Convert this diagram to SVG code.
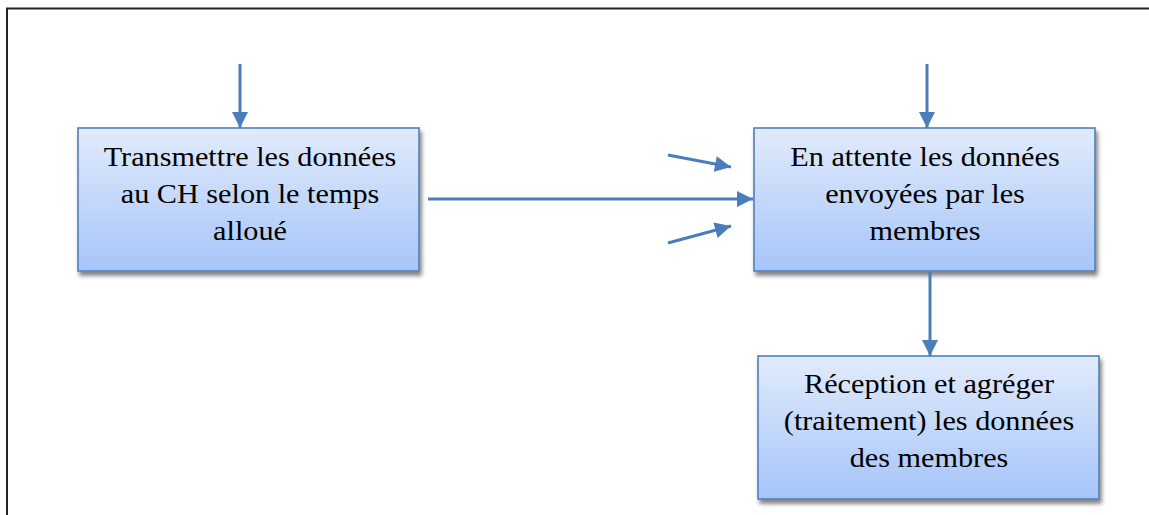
<svg xmlns="http://www.w3.org/2000/svg" width="1149" height="515" viewBox="0 0 1149 515">
  <defs>
    <linearGradient id="boxFill" x1="0" y1="0" x2="0" y2="1">
      <stop offset="0" stop-color="#e1ebfc"/>
      <stop offset="1" stop-color="#a6c5f9"/>
    </linearGradient>
    <filter id="shadow" x="-10%" y="-10%" width="125%" height="130%">
      <feGaussianBlur in="SourceAlpha" stdDeviation="2"/>
      <feOffset dx="2" dy="4" result="b"/>
      <feComponentTransfer><feFuncA type="linear" slope="0.5"/></feComponentTransfer>
      <feMerge><feMergeNode/><feMergeNode in="SourceGraphic"/></feMerge>
    </filter>
    <marker id="head" viewBox="0 0 10 10" refX="10" refY="5" markerWidth="17" markerHeight="16" markerUnits="userSpaceOnUse" orient="auto">
      <path d="M0,0 L10,5 L0,10 Z" fill="#4a7ebb"/>
    </marker>
  </defs>
  <style>
    .box { fill: url(#boxFill); stroke: #4f81bd; stroke-width: 1.6; filter: url(#shadow); }
    .lbl { font-family: "Liberation Serif", "Times New Roman", serif; font-size: 28px; fill: #000; text-anchor: middle; }
    .wire { stroke: #4a7ebb; stroke-width: 3; fill: none; marker-end: url(#head); }
  </style>
  <rect width="1149" height="515" fill="#fff"/>
  <!-- page frame -->
  <path d="M7,515 V8.5 H1149" fill="none" stroke="#222" stroke-width="2"/>

  <g id="transmettre">
    <rect class="box" x="78" y="128" width="341" height="143"/>
    <g transform="translate(250 0) scale(1.08 1)">
      <text class="lbl" x="0" y="166">Transmettre les données</text>
      <text class="lbl" x="0" y="203">au CH selon le temps</text>
      <text class="lbl" x="0" y="240">alloué</text>
    </g>
  </g>

  <g id="attente">
    <rect class="box" x="754" y="128" width="341" height="143"/>
    <g transform="translate(925 0) scale(1.08 1)">
      <text class="lbl" x="0" y="166">En attente les données</text>
      <text class="lbl" x="0" y="203">envoyées par les</text>
      <text class="lbl" x="0" y="240">membres</text>
    </g>
  </g>

  <g id="reception">
    <rect class="box" x="758" y="356" width="341" height="143"/>
    <g transform="translate(929 0) scale(1.08 1)">
      <text class="lbl" x="0" y="393">Réception et agréger</text>
      <text class="lbl" x="0" y="430">(traitement) les données</text>
      <text class="lbl" x="0" y="467">des membres</text>
    </g>
  </g>

  <g id="connectors">
    <line class="wire" x1="240" y1="64" x2="240" y2="128"/>
    <line class="wire" x1="927" y1="64" x2="927" y2="128"/>
    <line class="wire" x1="428" y1="199" x2="753" y2="199"/>
    <line class="wire" x1="668" y1="155" x2="731" y2="167"/>
    <line class="wire" x1="668" y1="243" x2="731" y2="226"/>
    <line class="wire" x1="930" y1="272" x2="930" y2="356"/>
  </g>
</svg>
